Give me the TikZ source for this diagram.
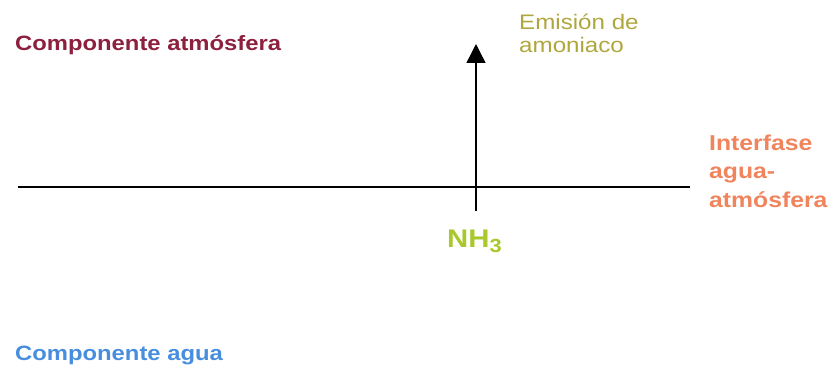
\documentclass[tikz,border=0pt]{standalone}
\usepackage{fontspec}
\usetikzlibrary{arrows.meta}
\newfontfamily\widesans[FakeStretch=1.15]{Liberation Sans}
\definecolor{atmcol}{RGB}{140,32,62}
\definecolor{emicol}{RGB}{176,166,62}
\definecolor{intcol}{RGB}{240,132,92}
\definecolor{nhcol}{RGB}{168,200,44}
\definecolor{aguacol}{RGB}{72,142,222}
\tikzset{
  lbl/.style={inner sep=0pt, anchor=base west, align=left},
  layerline/.style={line width=1.4pt, black},
  flux/.style={line width=1.4pt, black, -{Triangle[width=19pt,length=19pt]}}
}
\begin{document}
\begin{tikzpicture}[x=1pt,y=-1pt]
\useasboundingbox (0,0) rectangle (838,369);
% interface between water and atmosphere
\coordinate (ifL) at (18,187);
\coordinate (ifR) at (690,187);
\draw[layerline] (ifL) -- (ifR);
% ammonia flux up into the atmosphere
\coordinate (src) at (476,211);
\coordinate (emis) at (476,44);
\draw[flux] (src) -- (emis);
% labels (base anchor of a multi-line label sits on its last line)
\node[lbl, text=atmcol, font={\widesans\bfseries\fontsize{20.7}{24}\selectfont}] (atm) at (15,51) {Componente atmósfera};
\node[lbl, text=emicol, font={\widesans\fontsize{21}{23.5}\selectfont}] (emi) at (519,53) {Emisión de\\amoniaco};
\node[lbl, text=intcol, font={\widesans\bfseries\fontsize{21.5}{28.5}\selectfont}] (int) at (709,207) {Interfase\\agua-\\atmósfera};
\node[lbl, text=nhcol, font={\widesans\bfseries\fontsize{25.5}{28}\selectfont}] (nh) at (447,247) {NH\raisebox{-5pt}{\fontsize{19}{20}\selectfont 3}};
\node[lbl, text=aguacol, font={\widesans\bfseries\fontsize{20.7}{24}\selectfont}] (agua) at (15,360) {Componente agua};
\end{tikzpicture}
\end{document}
